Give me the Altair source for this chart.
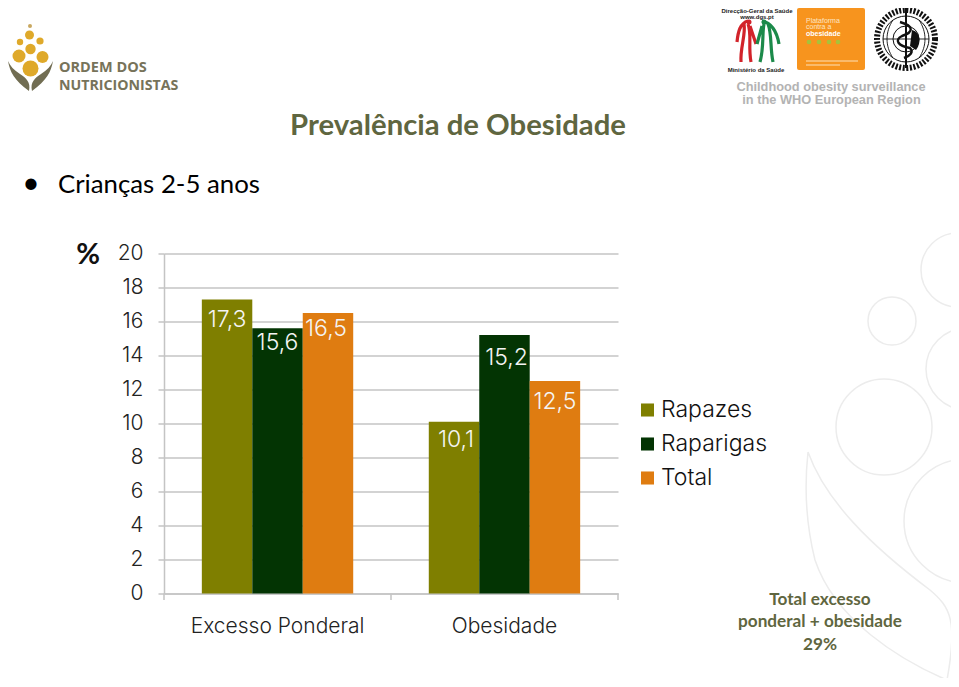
import altair as alt
import pandas as pd

categories = ["Excesso Ponderal", "Obesidade"]
series = ["Rapazes", "Raparigas", "Total"]
excesso = [17.3, 15.6, 16.5]
obesidade = [10.1, 15.2, 12.5]
labels_excesso = ["17,3", "15,6", "16,5"]
labels_obesidade = ["10,1", "15,2", "12,5"]
colors = ["#7f7f00", "#033403", "#df7c11"]

rows = []
for cat, vals, labs in [(categories[0], excesso, labels_excesso), (categories[1], obesidade, labels_obesidade)]:
    for s, v, l in zip(series, vals, labs):
        rows.append({"cat": cat, "serie": s, "valor": v, "rotulo": l})
df = pd.DataFrame(rows)

OX, OY = 164, 253.5
one = alt.Data(values=[{"a": 0}])
CHART_FONT = "Inter"
BODY_FONT = "Lato"

def text(s, x, y, size, color="#000000", bold=False, font=BODY_FONT, align="center"):
    return alt.Chart(one).mark_text(text=s, fontSize=size, color=color, font=font, align=align,
                                    baseline="middle", fontWeight="bold" if bold else "normal"
                                    ).encode(x=alt.value(x - OX), y=alt.value(y - OY))

def circle(x, y, r, fill=None, stroke=None, sw=1.0, dash=None):
    kw = {"shape": "circle", "size": (2 * r) ** 2, "opacity": 1}
    if fill:
        kw.update(filled=True, fill=fill, strokeWidth=0)
    else:
        kw.update(filled=False, stroke=stroke, strokeWidth=sw)
    if dash:
        kw.update(strokeDash=dash)
    return alt.Chart(one).mark_point(**kw).encode(x=alt.value(x - OX), y=alt.value(y - OY))

def path(d, fill=None, stroke=None, sw=1.0):
    kw = {"shape": d, "size": 4, "opacity": 1}
    if fill:
        kw.update(filled=True, fill=fill, strokeWidth=0)
    else:
        kw.update(filled=False, stroke=stroke, strokeWidth=sw)
    return alt.Chart(one).mark_point(**kw).encode(x=alt.value(-OX), y=alt.value(-OY))

WM = "#ececec"
back = [
    circle(958, 270, 37, stroke=WM, sw=1.5),
    circle(892, 321, 24, stroke=WM, sw=1.5),
    circle(967, 369, 41, stroke=WM, sw=1.5),
    circle(884, 427, 48, stroke=WM, sw=1.5),
    circle(966, 521, 62, stroke=WM, sw=1.5),
    path("M808,452 C825,500 870,545 930,590 C950,607 958,620 947,680 C900,660 835,620 815,560 C805,520 805,480 808,452",
         stroke=WM, sw=1.5),
]

x_enc = alt.X("cat:N", sort=categories, title=None,
              scale=alt.Scale(paddingInner=0.333, paddingOuter=0.1667),
              axis=alt.Axis(labelAngle=0, labelFontSize=21, labelFont=CHART_FONT, labelColor="#222222",
                            labelPadding=22, labelFontWeight=300, domainColor="#c4c4c4", domainWidth=1.5,
                            grid=False, ticks=False))
xo = alt.XOffset("serie:N", sort=series, scale=alt.Scale(domain=series, paddingInner=0, paddingOuter=0))
y_enc = alt.Y("valor:Q", title=None, scale=alt.Scale(domain=[0, 20], nice=False),
              axis=alt.Axis(values=list(range(0, 21, 2)), labelFontSize=21, labelFont=CHART_FONT, labelColor="#222222",
                            labelFontWeight=300, labelPadding=15, labelOverlap=False, tickColor="#c4c4c4", tickSize=6,
                            tickWidth=1.5, domainColor="#c4c4c4", domainWidth=1.5, gridColor="#c4c4c4", gridWidth=1.5))

bars = alt.Chart(df).mark_bar().encode(
    x=x_enc, xOffset=xo, y=y_enc,
    color=alt.Color("serie:N", sort=series,
                    scale=alt.Scale(domain=series, range=colors),
                    legend=alt.Legend(title=None, orient="none", legendX=472, legendY=145, symbolType="square",
                                      symbolSize=170, symbolStrokeWidth=0, labelFontSize=23, labelFont=CHART_FONT,
                                      labelFontWeight=300, labelColor="#111111", rowPadding=10, labelOffset=2,
                                      symbolOffset=0, padding=0)),
)

label_dy = [21, 15, 16, 18, 23, 21]
label_dx = [0, 0, -2, 2, 2, 0]
label_layers = []
for i, r in enumerate(rows):
    label_layers.append(
        alt.Chart(pd.DataFrame([r])).mark_text(color="#f4f4f4", fontSize=23, font=CHART_FONT, fontWeight=300,
                                               baseline="middle", dx=label_dx[i], dy=label_dy[i]).encode(
            x=x_enc, xOffset=xo, y=y_enc, text="rotulo:N")
    )

OL = "#5f6640"
front = [
    path("M164,593.5 L164,600 M391,593.5 L391,600 M618,593.5 L618,600", stroke="#c4c4c4", sw=1.5),
    text("Prevalência de Obesidade", 458, 125.5, 29.3, OL, True),
    text("•", 31, 184, 30, "#000000"),
    text("Crianças 2-5 anos", 58, 185, 25.8, "#000000", align="left"),
    text("%", 88, 255, 29, "#111111", True),
    text("Total excesso", 820, 600, 17.2, OL, True),
    text("ponderal + obesidade", 820, 622, 17.2, OL, True),
    text("29%", 820, 645, 17.2, OL, True),
    # Ordem dos Nutricionistas logo
    circle(30, 26, 2, fill="#c9a860"),
    circle(29.5, 35, 4.5, fill="#dfa92a"),
    circle(20, 42, 3.2, fill="#dfa92a"),
    circle(40, 41, 3.6, fill="#dfa92a"),
    circle(30.5, 49, 5.2, fill="#dfa92a"),
    circle(19, 56, 6.5, fill="#dfa92a"),
    circle(42.5, 57, 6, fill="#dfa92a"),
    circle(30.5, 68.5, 8, fill="#dfa92a"),
    path("M8,61 C10,72 14,80 29,91 C31,82 26,78 20,74 C14,70 10,66 8,61 Z", fill="#716d52"),
    path("M53,61 C51,72 47,80 32,91 C30,82 35,78 41,74 C47,70 51,66 53,61 Z", fill="#716d52"),
    text("ORDEM DOS", 59, 68, 14.5, "#77735a", True, "Open Sans", "left"),
    text("NUTRICIONISTAS", 59, 85.5, 14.2, "#77735a", True, "Open Sans", "left"),
    # DGS logo
    text("Direcção-Geral da Saúde", 757, 11, 6, "#222222", True, "Liberation Sans"),
    text("www.dgs.pt", 757, 17, 6, "#222222", True, "Liberation Sans"),
    text("Ministério da Saúde", 756, 70, 6, "#222222", True, "Liberation Sans"),
    path("M748,21 C740,23 738,32 737,42 M744,24 C746,34 740,48 741,62 M748,24 C752,34 748,46 751,62 M750,26 L756,44",
         stroke="#d2232a", sw=3.2),
    circle(749, 22, 2.5, fill="#d2232a"),
    path("M762,21 C772,23 777,32 779,44 M764,24 C762,34 764,48 760,62 M768,24 C772,34 770,48 773,62 M762,26 L757,44",
         stroke="#1c8a4a", sw=3.2),
    circle(764, 22, 2.5, fill="#1c8a4a"),
    # Plataforma logo
    path("M799,8 L863,8 Q865,8 865,10 L865,68 Q865,70 863,70 L799,70 Q797,70 797,68 L797,10 Q797,8 799,8 Z", fill="#f7941e"),
    text("Plataforma", 806, 21, 7, "#fde6c4", False, "Liberation Sans", "left"),
    text("contra a", 806, 27, 7, "#fde6c4", False, "Liberation Sans", "left"),
    text("obesidade", 806, 33.5, 7, "#ffffff", True, "Liberation Sans", "left"),
    circle(809, 42, 2.3, fill="#a6c23a"),
    circle(819, 42, 2.3, fill="#a6c23a"),
    circle(829, 42, 2.3, fill="#a6c23a"),
    circle(838, 42, 2.3, fill="#a6c23a"),
    path("M806,61 L858,61 M806,65 L840,65", stroke="#fde0b8", sw=1),
    # WHO emblem
    circle(906, 39, 29, stroke="#111111", sw=6, dash=[2, 1.6]),
    circle(906, 39, 23, stroke="#111111", sw=1),
    circle(906, 39, 13, stroke="#111111", sw=1),
    path("M883,39 L929,39 M906,16 L906,62 M893,20 C885,32 885,46 893,58 M919,20 C927,32 927,46 919,58", stroke="#111111", sw=0.9),
    path("M906,8 L906,68", stroke="#111111", sw=2),
    path("M900,22 C914,26 914,32 902,36 C894,40 898,46 910,48 C914,52 910,56 904,58", stroke="#111111", sw=2.4),
    path("M912,30 C920,32 922,42 916,50 L910,46 Z", fill="#111111"),
    text("Childhood obesity surveillance", 831, 86.5, 12.8, "#b3b3b3", True, "Liberation Sans"),
    text("in the WHO European Region", 831.5, 100, 12.8, "#b3b3b3", True, "Liberation Sans"),
]

chart = alt.layer(*back, bars, *label_layers, *front).properties(
    width=454, height=340,
    padding={"left": 156, "top": 245.5, "right": 333, "bottom": 84.5},
    autosize=alt.AutoSizeParams(type="none", contains="content"),
    background="#ffffff",
).configure_view(stroke=None)

chart.save("out.html", embed_options={"renderer": "svg", "actions": False})
